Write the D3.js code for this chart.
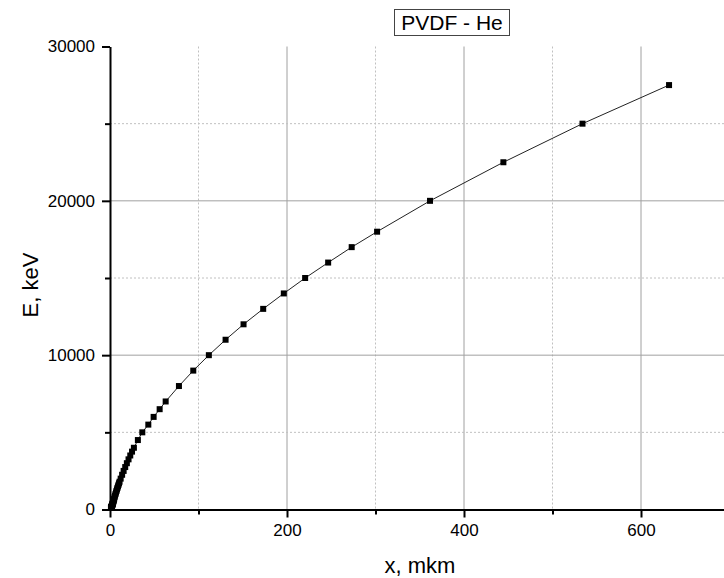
<!DOCTYPE html>
<html>
<head>
<meta charset="utf-8">
<script src="https://cdn.jsdelivr.net/npm/d3@7"></script>
<style>
  body { margin: 0; background: #fff; }
  text { font-family: "Liberation Sans", Arial, sans-serif; fill: #000; }
</style>
</head>
<body>
<script>
var width = 724;
var height = 578;

// SRIM-like table: He ions in PVDF, energy (keV) vs depth (mkm)
var energy = [100, 110, 120, 130, 140, 150, 160, 170, 180, 200, 225, 250, 275, 300, 325, 350, 375, 400,
  450, 500, 550, 600, 650, 700, 800, 900, 1000, 1100, 1200, 1300, 1400, 1500, 1600, 1700, 1800,
  2000, 2250, 2500, 2750, 3000, 3250, 3500, 3750, 4000, 4500, 5000, 5500, 6000, 6500, 7000,
  8000, 9000, 10000, 11000, 12000, 13000, 14000, 15000, 16000, 17000, 18000, 20000, 22500, 25000, 27500];
var depth = [1.05, 1.15, 1.24, 1.33, 1.42, 1.5, 1.6, 1.7, 1.8, 1.95, 2.1, 2.3, 2.45, 2.6, 2.75, 2.9, 3.05, 3.2,
  3.45, 3.7, 3.95, 4.2, 4.45, 4.7, 5.2, 5.7, 6.2, 6.75, 7.3, 7.85, 8.4, 9.0, 9.6, 10.2, 10.8,
  12.05, 13.7, 15.4, 17.2, 19.05, 20.95, 22.9, 24.9, 27.0, 31.5, 36.5, 43.3, 49.3, 56.1, 62.9,
  77.9, 94.1, 111.7, 130.6, 150.9, 173.1, 196.4, 220.5, 246.5, 273.1, 301.8, 361.6, 444.5, 533.9, 631.7];

var xMajor = [0, 200, 400, 600];
var xMinor = [100, 300, 500];
var yMajor = [0, 10000, 20000, 30000];
var yMinor = [5000, 15000, 25000];

var data = energy.map(function(e, i) { return {x: depth[i], y: e}; });

var svg = d3.select("body")
  .append("svg")
  .attr("width", width)
  .attr("height", height);

var xScale = d3.scaleLinear()
  .domain([0, 700])
  .range([110, 110 + 700 * 0.885]);

var yScale = d3.scaleLinear()
  .domain([0, 30000])
  .range([509.5, 46.5]);

// grid
var grid = svg.append("g");
grid.selectAll(".vmaj")
  .data(xMajor.filter(function(d) { return d > 0; }))
  .enter().append("line")
    .attr("x1", function(d) { return xScale(d); })
    .attr("x2", function(d) { return xScale(d); })
    .attr("y1", yScale(30000))
    .attr("y2", yScale(0))
    .attr("stroke", "#a0a0a0")
    .attr("stroke-width", 1);
grid.selectAll(".vmin")
  .data(xMinor)
  .enter().append("line")
    .attr("x1", function(d) { return xScale(d); })
    .attr("x2", function(d) { return xScale(d); })
    .attr("y1", yScale(30000))
    .attr("y2", yScale(0))
    .attr("stroke", "#c0c0c0")
    .attr("stroke-dasharray", "2,2")
    .attr("stroke-width", 1);
grid.selectAll(".hmaj")
  .data(yMajor.filter(function(d) { return d > 0 && d < 30000; }))
  .enter().append("line")
    .attr("x1", xScale(0))
    .attr("x2", width)
    .attr("y1", function(d) { return yScale(d); })
    .attr("y2", function(d) { return yScale(d); })
    .attr("stroke", "#a0a0a0")
    .attr("stroke-width", 1);
grid.selectAll(".hmin")
  .data(yMinor)
  .enter().append("line")
    .attr("x1", xScale(0))
    .attr("x2", width)
    .attr("y1", function(d) { return yScale(d); })
    .attr("y2", function(d) { return yScale(d); })
    .attr("stroke", "#c0c0c0")
    .attr("stroke-dasharray", "2,2")
    .attr("stroke-width", 1);

// curve + markers
var line = d3.line()
  .x(function(d) { return xScale(d.x); })
  .y(function(d) { return yScale(d.y); });

svg.append("path")
  .datum(data)
  .attr("d", line)
  .attr("fill", "none")
  .attr("stroke", "#222")
  .attr("stroke-width", 1);

var ms = 6;
svg.selectAll(".pt")
  .data(data)
  .enter().append("rect")
    .attr("x", function(d) { return xScale(d.x) - ms / 2; })
    .attr("y", function(d) { return yScale(d.y) - ms / 2; })
    .attr("width", ms)
    .attr("height", ms)
    .attr("fill", "#000");

// axes
var xAxis = svg.append("g")
  .attr("transform", "translate(0," + yScale(0) + ")")
  .call(d3.axisBottom(xScale).tickValues(xMajor).tickFormat(d3.format("d"))
    .tickSize(8).tickSizeOuter(0).tickPadding(6));
var xAxisMinor = svg.append("g")
  .attr("transform", "translate(0," + yScale(0) + ")")
  .call(d3.axisBottom(xScale).tickValues(xMinor).tickSize(5).tickSizeOuter(0).tickFormat(""));
xAxisMinor.select(".domain").remove();

var yAxis = svg.append("g")
  .attr("transform", "translate(" + xScale(0) + ",0)")
  .call(d3.axisLeft(yScale).tickValues(yMajor).tickFormat(d3.format("d"))
    .tickSize(8).tickSizeOuter(0).tickPadding(7));
var yAxisMinor = svg.append("g")
  .attr("transform", "translate(" + xScale(0) + ",0)")
  .call(d3.axisLeft(yScale).tickValues(yMinor).tickSize(5).tickSizeOuter(0).tickFormat(""));
yAxisMinor.select(".domain").remove();

svg.selectAll(".domain").attr("stroke", "#000").attr("stroke-width", 2);
svg.selectAll(".tick line").attr("stroke", "#000").attr("stroke-width", 2);
svg.selectAll(".tick text")
  .style("font-family", "'Liberation Sans', Arial, sans-serif")
  .style("font-size", "17px")
  .attr("fill", "#000");

// axis titles
svg.append("text")
  .attr("x", 420)
  .attr("y", 573)
  .attr("text-anchor", "middle")
  .style("font-size", "22px")
  .text("x, mkm");

svg.append("text")
  .attr("transform", "translate(38,285) rotate(-90)")
  .attr("text-anchor", "middle")
  .style("font-size", "22px")
  .text("E, keV");

// title box
var title = svg.append("g");
title.append("rect")
  .attr("x", 394.5)
  .attr("y", 9.5)
  .attr("width", 115)
  .attr("height", 26)
  .attr("fill", "#fff")
  .attr("stroke", "#444")
  .attr("stroke-width", 1);
title.append("text")
  .attr("x", 452)
  .attr("y", 30)
  .attr("text-anchor", "middle")
  .style("font-size", "21px")
  .text("PVDF - He");
</script>
</body>
</html>
